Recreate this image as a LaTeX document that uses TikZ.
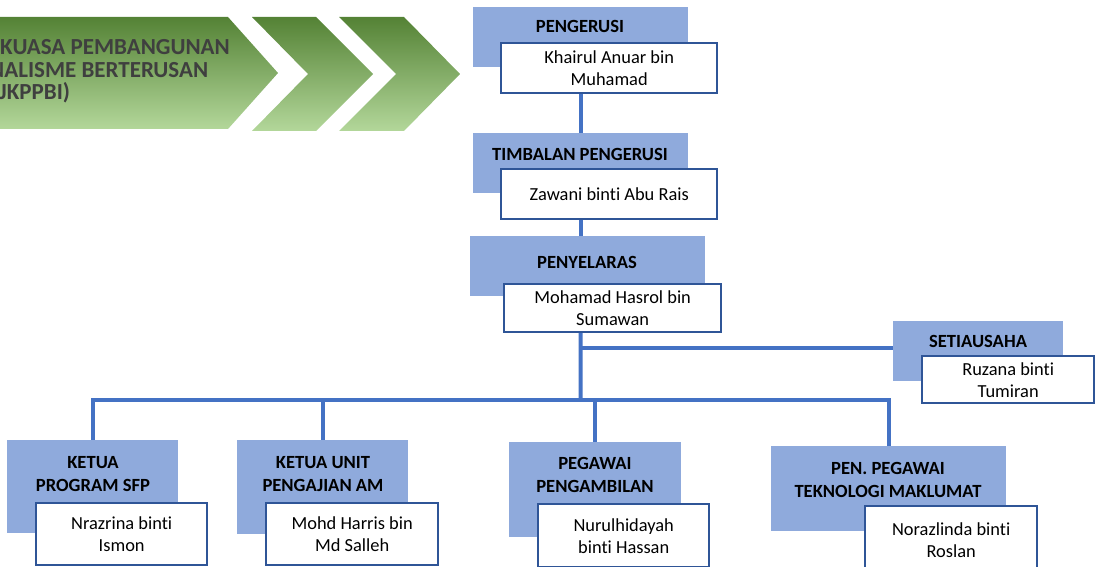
\documentclass[tikz,border=0pt]{standalone}
\usepackage{fontspec}
\setmainfont{Carlito}[Ligatures={NoCommon}]
\usetikzlibrary{calc}
\definecolor{roleblue}{HTML}{8FAADC}
\definecolor{nameedge}{HTML}{2F5597}
\definecolor{linkblue}{HTML}{4472C4}
\definecolor{greendark}{HTML}{548235}
\definecolor{greenmid}{HTML}{6F9E4E}
\definecolor{greenlight}{HTML}{B3D79A}
\definecolor{bannertext}{HTML}{3F3F3F}
\pgfdeclarelayer{background}
\pgfsetlayers{background,main}
\newcommand\hdrfont{\fontsize{18.6}{23}\selectfont\bfseries}
\newcommand\namefont{\fontsize{18.4}{22}\selectfont}
\newcommand\bannerfont{\fontsize{23}{23}\selectfont\bfseries}
\tikzset{
  rolebox/.style={fill=roleblue, draw=none, inner sep=0pt, anchor=north west},
  rolelabel/.style={font=\hdrfont, align=center, inner sep=0pt, text=black},
  namebox/.style={draw=nameedge, line width=2.4pt, fill=white, inner sep=0pt,
                  anchor=north west, align=center, font=\namefont},
  conn/.style={draw=linkblue, line width=4pt},
  chevron/.style={top color=greendark, middle color=greenmid, bottom color=greenlight, draw=none},
  bannerline/.style={font=\bannerfont, text=bannertext, anchor=base west, inner sep=0pt},
}
\begin{document}
\begin{tikzpicture}[x=1pt, y=-1pt]
\useasboundingbox (0,0) rectangle (1096,567);
\clip (0,0) rectangle (1096,567);

% banner chevrons
\path[chevron] (-10,17) -- (228,17) -- (278,73) -- (228,129) -- (-10,129) -- cycle;
\path[chevron] (252,17) -- (316,17) -- (373,74) -- (316,131) -- (252,131) -- (308,74) -- cycle;
\path[chevron] (339,17) -- (404,17) -- (460,74) -- (404,131) -- (339,131) -- (396,74) -- cycle;
\node[bannerline] (ban1) at (0,55) {KUASA PEMBANGUNAN};
\node[bannerline] (ban2) at (-11,78) {NALISME BERTERUSAN};
\node[bannerline] (ban3) at (-1,100) {JKPPBI)};

% role boxes (blue) and name boxes (white)
\node[rolebox, minimum width=215pt, minimum height=60pt] (h1) at (473,7) {};
\node[rolelabel] (l1) at (580,26) {PENGERUSI};
\node[namebox, minimum width=216pt, minimum height=50pt] (n1) at (500,42) {Khairul Anuar bin\\Muhamad};

\node[rolebox, minimum width=215pt, minimum height=60pt] (h2) at (473,133) {};
\node[rolelabel] (l2) at (580,154) {TIMBALAN PENGERUSI};
\node[namebox, minimum width=216pt, minimum height=50pt] (n2) at (500,168) {Zawani binti Abu Rais};

\node[rolebox, minimum width=235pt, minimum height=60pt] (h3) at (470,236) {};
\node[rolelabel] (l3) at (587,262) {PENYELARAS};
\node[namebox, minimum width=217pt, minimum height=48pt] (n3) at (503,283) {Mohamad Hasrol bin\\Sumawan};

\node[rolebox, minimum width=170pt, minimum height=60pt] (h4) at (893,321) {};
\node[rolelabel] (l4) at (978,341) {SETIAUSAHA};
\node[namebox, minimum width=172pt, minimum height=47pt] (n4) at (921,355) {Ruzana binti\\Tumiran};

\node[rolebox, minimum width=171pt, minimum height=93pt] (h5) at (7,440) {};
\node[rolelabel] (l5) at (93,474) {KETUA\\PROGRAM SFP};
\node[namebox, minimum width=171pt, minimum height=62pt] (n5) at (35,502) {Nrazrina binti\\Ismon};

\node[rolebox, minimum width=171pt, minimum height=94pt] (h6) at (237,440) {};
\node[rolelabel] (l6) at (323,474) {KETUA UNIT\\PENGAJIAN AM};
\node[namebox, minimum width=172pt, minimum height=62pt] (n6) at (265,502) {Mohd Harris bin\\Md Salleh};

\node[rolebox, minimum width=172pt, minimum height=95pt] (h7) at (509,442) {};
\node[rolelabel] (l7) at (595,475) {PEGAWAI\\PENGAMBILAN};
\node[namebox, minimum width=171pt, minimum height=63pt] (n7) at (537,503) {Nurulhidayah\\binti Hassan};

\node[rolebox, minimum width=235pt, minimum height=85pt] (h8) at (771,446) {};
\node[rolelabel] (l8) at (888,480) {PEN. PEGAWAI\\TEKNOLOGI MAKLUMAT};
\node[namebox, minimum width=172pt, minimum height=67pt] (n8) at (864,505) {Norazlinda binti\\Roslan};

% connector junctions
\coordinate (stem) at (580.5,400);
\coordinate (bus) at (0,400);
\coordinate (sec) at (0,348);

\begin{pgfonlayer}{background}
\draw[conn] (h1.south) -- (h2.north);
\draw[conn] (h2.south) -- (h2.south |- h3.north);
\draw[conn] (h2.south |- h3.south) -- (stem);
\draw[conn] (stem |- sec) -- (h4.west |- sec);
\draw[conn] (h5.north) -- (h5.north |- bus) -- (h8.north |- bus) -- (h8.north);
\draw[conn] (h6.north) -- (h6.north |- bus);
\draw[conn] (h7.north) -- (h7.north |- bus);
\end{pgfonlayer}
\end{tikzpicture}
\end{document}
